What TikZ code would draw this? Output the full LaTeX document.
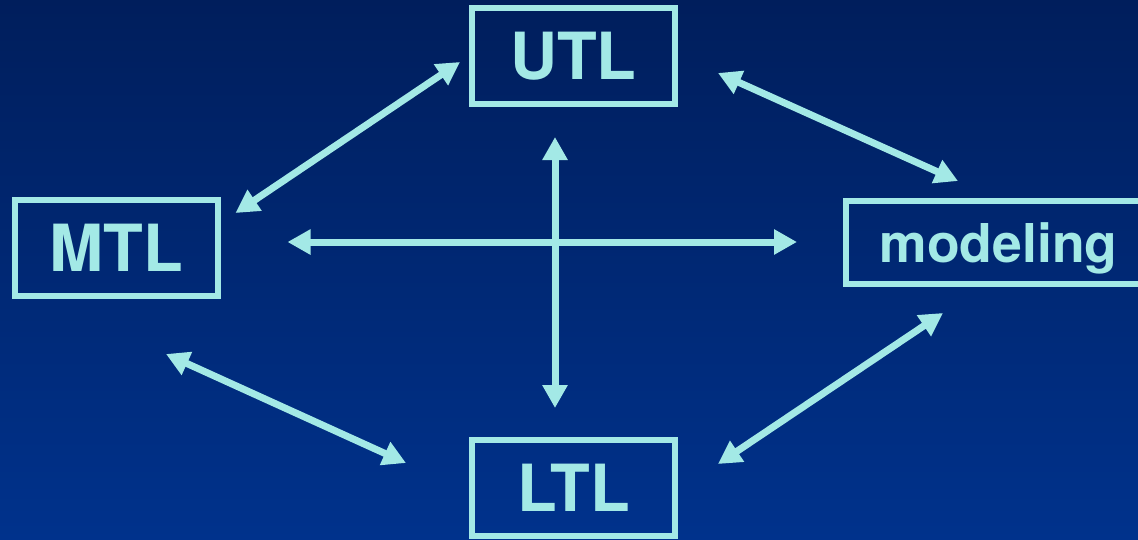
\documentclass[tikz,border=0pt]{standalone}
\usepackage{fontspec}
\setmainfont{TeX Gyre Heros}
\usetikzlibrary{arrows.meta,calc}

\definecolor{linecyan}{RGB}{163,233,230}
\definecolor{navytop}{RGB}{0,30,92}
\definecolor{navybottom}{RGB}{0,50,140}

\begin{document}
\begin{tikzpicture}[x=1pt,y=-1pt,
		logic/.style={draw=linecyan,line width=6pt,text=linecyan,inner sep=0pt,outer sep=0pt,
			minimum width=203pt,minimum height=96pt,font=\fontsize{65}{70}\selectfont\bfseries},
		link/.style={draw=linecyan,line width=7pt,{Triangle[length=23pt,width=24pt]}-{Triangle[length=23pt,width=24pt]}}]
		\useasboundingbox (0,0) rectangle (1138,539);
		\shade[top color=navytop,bottom color=navybottom] (0,0) rectangle (1138,539);
		\clip (0,0) rectangle (1138,539);
		% the four boxes
		\node[logic] (utl) at (573.5,56) {UTL};
		\node[logic] (mtl) at (116,248) {MTL};
		\node[logic] (ltl) at (573.5,488) {LTL};
		\node[logic,minimum width=305pt,minimum height=83pt,text height=39pt,text depth=0pt,
			font=\fontsize{53.5}{60}\selectfont\bfseries] (model) at (998.5,242.5) {modeling};
		% double arrows
		\draw[link] ($(utl.west)+(-12,6)$) -- ($(mtl.north east)+(18,13)$);
		\draw[link] ($(utl.east)+(43,17)$) -- ($(model.north)+(-40.5,-20)$);
		\draw[link] ($(mtl.east)+(70,-6)$) -- ($(model.west)+(-49,-0.5)$);
		\draw[link] ($(utl.south)+(-18.5,33)$) -- ($(ltl.north)+(-18.5,-32)$);
		\draw[link] ($(mtl.south)+(50,58)$) -- ($(ltl.west)+(-66,-25)$);
		\draw[link] ($(ltl.east)+(43,-24)$) -- ($(model.south)+(-55.5,29)$);
	\end{tikzpicture}
\end{document}
